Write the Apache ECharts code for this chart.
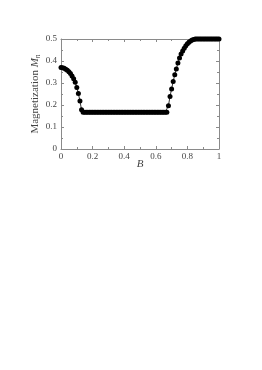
<!DOCTYPE html>
<html>
<head>
<meta charset="utf-8">
<script src="https://cdn.jsdelivr.net/npm/echarts@6/dist/echarts.min.js"></script>
<style>
html,body{margin:0;padding:0;background:#fff;}
#c{width:262px;height:370px;}
</style>
</head>
<body>
<div id="c"></div>
<script>
var fieldB = [
0.00,0.01,0.02,0.03,0.04,0.05,0.06,0.07,0.08,0.09,
0.10,0.11,0.12,0.13,0.14,0.15,0.16,0.17,0.18,0.19,
0.20,0.21,0.22,0.23,0.24,0.25,0.26,0.27,0.28,0.29,
0.30,0.31,0.32,0.33,0.34,0.35,0.36,0.37,0.38,0.39,
0.40,0.41,0.42,0.43,0.44,0.45,0.46,0.47,0.48,0.49,
0.50,0.51,0.52,0.53,0.54,0.55,0.56,0.57,0.58,0.59,
0.60,0.61,0.62,0.63,0.64,0.65,0.66,0.67,0.68,0.69,
0.70,0.71,0.72,0.73,0.74,0.75,0.76,0.77,0.78,0.79,
0.80,0.81,0.82,0.83,0.84,0.85,0.86,0.87,0.88,0.89,
0.90,0.91,0.92,0.93,0.94,0.95,0.96,0.97,0.98,0.99,
1.00];
var magnetization = [
0.370,0.369,0.367,0.363,0.358,0.351,0.343,0.332,0.319,0.303,
0.280,0.252,0.218,0.178,0.167,0.167,0.167,0.167,0.167,0.167,
0.167,0.167,0.167,0.167,0.167,0.167,0.167,0.167,0.167,0.167,
0.167,0.167,0.167,0.167,0.167,0.167,0.167,0.167,0.167,0.167,
0.167,0.167,0.167,0.167,0.167,0.167,0.167,0.167,0.167,0.167,
0.167,0.167,0.167,0.167,0.167,0.167,0.167,0.167,0.167,0.167,
0.167,0.167,0.167,0.167,0.167,0.167,0.167,0.167,0.197,0.239,
0.273,0.307,0.338,0.364,0.391,0.414,0.432,0.446,0.458,0.469,
0.478,0.485,0.491,0.495,0.498,0.500,0.500,0.500,0.500,0.500,
0.500,0.500,0.500,0.500,0.500,0.500,0.500,0.500,0.500,0.500,
0.500];
var xTicks = [0, 0.2, 0.4, 0.6, 0.8, 1];
var yTicks = [0, 0.1, 0.2, 0.3, 0.4, 0.5];

var pts = fieldB.map(function(b, i){ return [b, magnetization[i]]; });
var font = 'Liberation Serif';
var axisCol = '#8a8a8a';
var txtCol = '#444';
function fmt(v){ return String(Math.round(v*10)/10); }

var chart = echarts.init(document.getElementById('c'), null, {renderer:'canvas'});
chart.setOption({
  animation:false,
  backgroundColor:'#fff',
  grid:{left:61, top:39, width:158, height:110},
  xAxis:[{
    type:'value', min:0, max:1, interval:0.2, position:'bottom',
    name:'B', nameLocation:'middle', nameGap:10, nameMoveOverlap:false,
    nameTextStyle:{fontFamily:font, fontStyle:'italic', fontSize:11, color:txtCol},
    axisLine:{onZero:false, lineStyle:{color:axisCol, width:1}},
    axisTick:{inside:true, length:3, lineStyle:{color:axisCol}},
    minorTick:{show:true, splitNumber:2, length:2, lineStyle:{color:axisCol}},
    splitLine:{show:false},
    axisLabel:{fontFamily:font, fontSize:9, color:txtCol, margin:3,
      formatter:function(v){ return xTicks.indexOf(Math.round(v*10)/10) >= 0 ? fmt(v) : ''; }}
  },{
    type:'value', min:0, max:1, interval:0.2, position:'top',
    axisLine:{show:true, onZero:false, lineStyle:{color:axisCol, width:1}},
    axisTick:{inside:true, length:3, lineStyle:{color:axisCol}},
    minorTick:{show:true, splitNumber:2, length:2, lineStyle:{color:axisCol}},
    splitLine:{show:false}, axisLabel:{show:false}
  }],
  yAxis:[{
    type:'value', min:0, max:0.5, interval:0.1, position:'left',
    name:'Magnetization {i|M}{s|n}', nameLocation:'middle', nameGap:19, nameMoveOverlap:false,
    nameTextStyle:{fontFamily:font, fontSize:11, color:txtCol,
      rich:{
        i:{fontFamily:font, fontStyle:'italic', fontSize:11, color:txtCol},
        s:{fontFamily:font, fontStyle:'italic', fontSize:7.5, color:txtCol, padding:[5,0,0,0]}
      }},
    axisLine:{onZero:false, lineStyle:{color:axisCol, width:1}},
    axisTick:{inside:true, length:3, lineStyle:{color:axisCol}},
    minorTick:{show:true, splitNumber:2, length:2, lineStyle:{color:axisCol}},
    splitLine:{show:false},
    axisLabel:{fontFamily:font, fontSize:9, color:txtCol, margin:4,
      formatter:function(v){ return yTicks.indexOf(Math.round(v*10)/10) >= 0 ? fmt(v) : ''; }}
  },{
    type:'value', min:0, max:0.5, interval:0.1, position:'right',
    axisLine:{show:true, onZero:false, lineStyle:{color:axisCol, width:1}},
    axisTick:{inside:true, length:3, lineStyle:{color:axisCol}},
    minorTick:{show:true, splitNumber:2, length:2, lineStyle:{color:axisCol}},
    splitLine:{show:false}, axisLabel:{show:false}
  }],
  series:[{
    type:'line', data:pts, xAxisIndex:0, yAxisIndex:0,
    symbol:'circle', symbolSize:5, showSymbol:true,
    lineStyle:{color:'#000', width:0.8},
    itemStyle:{color:'#000'},
    clip:false
  }]
});
</script>
</body>
</html>
